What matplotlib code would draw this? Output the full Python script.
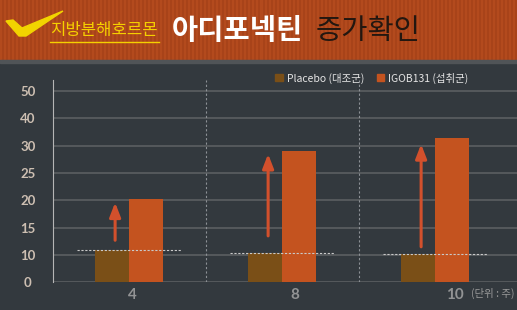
import numpy as np
import matplotlib
matplotlib.use("Agg")
import matplotlib.pyplot as plt
from matplotlib.patches import Patch, Polygon

# data
weeks = ["4", "8", "10"]
placebo = [10.9, 10.4, 10.15]
igob = [20.3, 29.0, 33.0]
arrow_from = [12.7, 13.5, 11.5]
arrow_to = [19.6, 28.5, 30.6]
ytick_vals = [0, 10, 15, 20, 25, 30, 40, 50]

BG = "#33393e"
C_PLA = "#7a4f17"
C_IGOB = "#c4531f"
C_ARROW = "#d2502c"
KR = ["Noto Sans CJK KR", "DejaVu Sans"]

# uneven axis: every tick gets the same spacing
scale_vals = ytick_vals + [60]
scale_idx = list(range(len(scale_vals)))


def fwd(v):
    return np.interp(v, scale_vals, scale_idx)


def inv(i):
    return np.interp(i, scale_idx, scale_vals)


W, H = 517, 310
fig = plt.figure(figsize=(W / 100, H / 100), dpi=100)
fig.patch.set_facecolor(BG)

# header band with stripes
hax = fig.add_axes([0, 1 - 60 / H, 1, 60 / H])
stripes = np.zeros((1, W // 2, 3))
stripes[0, ::2] = np.array([0xb3, 0x4a, 0x1d]) / 255
stripes[0, 1::2] = np.array([0xa8, 0x43, 0x19]) / 255
hax.imshow(stripes, aspect="auto", extent=[0, 1, 0, 1], interpolation="nearest")
hax.set_xlim(0, 1)
hax.set_ylim(0, 1)
hax.axis("off")
fig.patches.append(plt.Rectangle((0, 1 - 63 / H), 1, 3 / H, transform=fig.transFigure,
                                 color="#505457", zorder=0))

# check mark
pts = [(6, 21), (13, 20), (22, 28), (63, 11), (26, 36), (19, 36)]
fig.patches.append(Polygon([(x / W, 1 - y / H) for x, y in pts], closed=True,
                           transform=fig.transFigure, color="#f2d400", zorder=3))

fig.text(50 / W, 1 - 31 / H, "지방분해호르몬", family=KR, fontsize=12, color="#f5d000",
         va="center", ha="left")
fig.lines.append(plt.Line2D([50 / W, 159 / W], [1 - 42 / H, 1 - 42 / H], transform=fig.transFigure,
                            color="#f5d000", lw=1))
fig.text(172 / W, 1 - 31 / H, "아디포넥틴", family=KR, fontsize=20.5, fontweight="black",
         color="white", va="center", ha="left")
fig.text(316 / W, 1 - 31 / H, "증가확인", family=KR, fontsize=20.5, fontweight="light",
         color="#231710", va="center", ha="left")

# chart
ax = fig.add_axes([53 / W, 1 - 282.3 / H, 1 - 53 / W, (282.3 - 80) / H])
ax.set_facecolor(BG)
ax.set_yscale("function", functions=(fwd, inv))
ax.set_ylim(0, inv(7.41))

x = np.arange(len(weeks))
bw = 0.222
ax.set_xlim(-0.497, -0.497 + (W - 53) / 153)

ax.bar(x - bw / 2, placebo, bw, color=C_PLA, zorder=3)
ax.bar(x + bw / 2, igob, bw, color=C_IGOB, zorder=3)

for i in range(len(weeks)):
    ax.plot([x[i] - 0.337, x[i] + 0.337], [placebo[i], placebo[i]], ls=(0, (2, 1.5)),
            color="#c9c9c9", lw=0.8, zorder=4)
    ax.annotate("", xy=(x[i] - bw / 2 + 0.02, arrow_to[i]), xytext=(x[i] - bw / 2 + 0.02, arrow_from[i]),
                arrowprops=dict(arrowstyle="-|>,head_length=0.85,head_width=0.33", color=C_ARROW,
                                lw=2.2, mutation_scale=10, shrinkA=0, shrinkB=0), zorder=5)

for s in (x[:-1] + x[1:]) / 2:
    ax.axvline(s, color="#8d9196", lw=0.8, ls=(0, (2, 2)), zorder=2)

ax.set_yticks(ytick_vals)
ax.set_yticklabels([str(v) for v in ytick_vals])
ax.yaxis.grid(True, color="#585c5f", lw=1.3, zorder=1)
ax.tick_params(axis="y", length=0, pad=18, labelcolor="#cdbfb2", labelsize=9.5)
for lab in ax.get_yticklabels():
    lab.set_ha("center")
    lab.set_family(["Lato", "DejaVu Sans"])
    lab.set_fontweight("bold")

ax.set_xticks(x + np.array([0.02, 0.085, 0.13]))
ax.set_xticklabels(weeks)
ax.tick_params(axis="x", length=0, pad=4, labelcolor="#929394", labelsize=11)
for lab in ax.get_xticklabels():
    lab.set_family(["Lato", "DejaVu Sans"])
    lab.set_fontweight("bold")

for side in ("top", "right", "bottom"):
    ax.spines[side].set_visible(False)
ax.spines["left"].set_color("#b5b5b5")
ax.spines["left"].set_linewidth(0.8)

fig.text(471 / W, 1 - 293 / H, "(단위 : 주)", family=KR, fontsize=7.5, color="#9a9a9a",
         va="center", ha="left")

handles = [Patch(color=C_PLA, label="Placebo (대조군)"), Patch(color=C_IGOB, label="IGOB131 (섭취군)")]
leg = fig.legend(handles=handles, loc="center left", bbox_to_anchor=(266 / W, 1 - 78 / H), ncol=2,
                 frameon=False, handlelength=0.7, handleheight=0.7, handletextpad=0.4,
                 columnspacing=1.2, prop={"family": KR, "size": 7.5})
for t in leg.get_texts():
    t.set_color("#e6e6e6")

fig.savefig("out.png", dpi=100, facecolor=BG)
